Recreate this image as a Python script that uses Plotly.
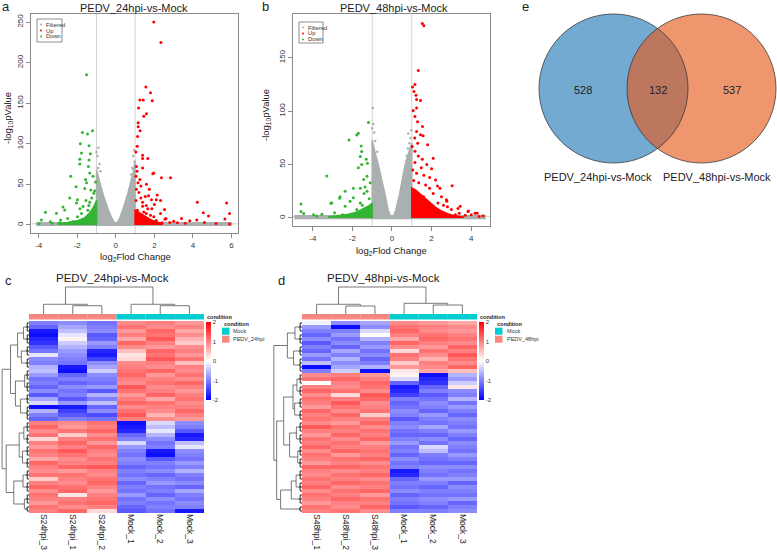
import plotly.graph_objects as go

W, H = 777, 553


def fx(p):
    # pixel column -> paper x
    return p / W


def fy(p):
    # pixel row -> paper y
    return 1 - p / H


# ---------------- volcano a : PEDV_24hpi-vs-Mock ----------------
a_up = [(1.97, 250), (2.34, 225), (1.56, 170), (1.80, 163), (1.25, 154), (1.42, 154), (1.89, 153),
        (1.18, 144), (1.59, 137), (1.45, 134), (1.16, 126), (1.16, 121), (1.26, 116), (1.13, 109),
        (1.11, 97), (1.04, 90), (1.39, 86), (1.66, 82), (1.39, 82), (1.07, 72), (1.39, 70), (1.10, 66),
        (1.97, 64), (1.92, 63), (2.37, 58), (2.84, 58), (1.25, 56), (1.59, 50), (1.30, 48), (1.07, 44),
        (1.74, 44), (2.15, 37), (1.53, 35), (1.85, 31), (2.32, 30), (4.23, 28), (5.75, 27), (2.00, 25),
        (1.39, 23), (1.66, 20), (4.54, 15), (5.90, 14), (4.81, 11), (5.66, 7.4), (5.90, 1.2), (3.41, 8),
        (3.84, 5), (4.20, 6), (2.55, 7), (3.00, 4.5), (1.97, 10), (2.32, 14), (1.87, 20), (1.58, 24),
        (1.39, 28), (1.70, 36), (2.10, 31), (2.60, 8), (2.10, 5.5), (1.58, 14), (2.53, 19), (1.20, 40),
        (1.05, 60), (1.15, 52), (1.30, 33), (1.05, 30), (1.12, 18), (1.45, 16), (2.80, 3), (3.20, 2.5),
        (3.60, 2), (4.60, 3), (5.20, 1.8), (2.40, 2.5), (1.80, 12), (1.25, 12), (1.50, 9)]
a_down = [(-1.52, 185), (-1.73, 114), (-1.47, 112), (-1.21, 116), (-1.84, 100), (-1.39, 97.5),
          (-1.78, 88.5), (-1.32, 87.6), (-1.87, 81), (-1.87, 75), (-1.39, 80), (-1.42, 72), (-1.35, 64),
          (-2.34, 60), (-1.57, 56), (-1.18, 60), (-1.52, 52), (-1.05, 53), (-2.06, 47), (-1.61, 45),
          (-1.30, 43), (-1.14, 39), (-2.39, 33), (-1.99, 31), (-2.74, 22), (-2.04, 27), (-3.65, 15.7),
          (-3.08, 14.4), (-1.70, 22.6), (-2.65, 18.5), (-3.86, 6), (-3.98, 1.5), (-3.40, 4), (-2.86, 6),
          (-2.50, 8), (-1.99, 10), (-1.78, 14), (-1.45, 18), (-1.13, 9), (-1.60, 6), (-2.20, 4.3),
          (-1.40, 24), (-1.10, 20), (-1.86, 20), (-1.25, 33), (-1.10, 42), (-1.55, 30), (-2.90, 2.5),
          (-3.30, 2), (-2.30, 2.2), (-1.20, 14), (-1.35, 28)]
a_filtered = [(-0.90, 95), (-0.95, 85), (-0.85, 75), (-1.00, 90), (-0.80, 66), (-0.92, 70), (0.95, 92),
              (0.90, 85), (0.97, 78), (0.85, 70), (0.80, 62), (0.92, 68), (0.98, 72), (3.2, 0.8),
              (4.6, 0.6), (5.5, 0.9), (-3.6, 0.7), (-4.0, 0.5), (2.6, 0.5)]
# outlines of the dense point clouds
a_cloud_left = [(-0.02, 0), (-0.2, 8), (-0.38, 18), (-0.52, 27), (-0.64, 36), (-0.76, 46), (-0.86, 55),
                (-0.94, 63), (-1.0, 68), (-1.0, 0)]
a_cloud_right = [(0.02, 0), (0.2, 8), (0.38, 20), (0.52, 30), (0.64, 40), (0.74, 50), (0.84, 58),
                 (0.92, 66), (0.97, 74), (1.0, 78), (1.0, 0)]
a_cloud_base = [(-4.1, -1.5), (-4.1, 2.5), (6.0, 2.5), (6.0, -1.5)]
a_cloud_up = [(1.0, 0), (1.0, 18), (1.15, 16), (1.35, 13), (1.6, 9), (1.85, 6), (2.1, 3.5), (2.4, 2),
              (2.4, 0)]
a_cloud_down = [(-1.0, 0), (-1.0, 30), (-1.15, 22), (-1.35, 15), (-1.6, 9), (-2.0, 5), (-2.5, 3),
                (-3.0, 1.8), (-3.0, 0)]

# ---------------- volcano b : PEDV_48hpi-vs-Mock ----------------
b_up = [(1.53, 182), (1.61, 180), (1.33, 138), (1.16, 125), (1.04, 122.6), (1.11, 118.5), (1.21, 115),
        (1.24, 111), (1.44, 110), (1.24, 103), (1.07, 100.6), (1.16, 95), (1.29, 90), (1.54, 85.6),
        (1.24, 81), (1.44, 78), (1.57, 77), (1.80, 68.5), (1.02, 67), (1.16, 62.6), (1.33, 58),
        (1.53, 55), (2.08, 56), (1.16, 52), (1.76, 50), (2.00, 46), (1.48, 47), (1.24, 42), (1.61, 40),
        (2.20, 35.6), (3.04, 30.3), (2.42, 27.8), (1.90, 27.8), (2.08, 23), (1.60, 20), (2.75, 17),
        (1.24, 17), (2.32, 14), (2.80, 10.6), (3.33, 9), (3.84, 6), (4.30, 4.5), (4.60, 2), (4.00, 3),
        (3.40, 4.5), (3.00, 8), (2.77, 15.6), (3.44, 10.9), (3.86, 6.5), (4.20, 4.4), (2.50, 20),
        (1.10, 35), (1.35, 33), (1.05, 45), (1.70, 31), (2.60, 12), (3.20, 3), (3.70, 2.5), (4.40, 1.5),
        (1.30, 70), (1.15, 75), (1.90, 38), (2.30, 30)]
b_down = [(-1.19, 89.4), (-1.70, 79.4), (-1.78, 77.6), (-2.17, 73), (-1.56, 67.5), (-1.53, 62.2),
          (-1.60, 57.6), (-1.30, 55), (-1.24, 51.3), (-1.53, 50), (-1.70, 47), (-3.29, 39.4), (-1.26, 39),
          (-1.43, 36), (-1.95, 27.8), (-1.60, 27.8), (-1.26, 25), (-2.37, 25), (-2.62, 20), (-3.04, 14),
          (-1.95, 19), (-4.60, 13), (-4.46, 4.3), (-3.96, 3), (-4.60, 6), (-3.09, 13.8), (-2.65, 18.5),
          (-2.37, 11), (-2.12, 15.6), (-1.78, 8), (-1.60, 14), (-1.41, 23), (-1.36, 29), (-1.26, 8),
          (-3.54, 3.4), (-3.80, 1.9), (-2.90, 5), (-1.10, 33), (-1.15, 18), (-1.50, 12), (-2.50, 3),
          (-1.90, 4)]
b_filtered = [(-0.97, 103), (-0.95, 88), (-0.90, 80), (-0.85, 72), (-1.00, 84), (0.82, 79), (0.88, 70),
              (0.93, 75), (0.80, 65), (0.97, 82), (-0.75, 62), (0.75, 58), (-4.5, 0.6), (-3.5, 0.8),
              (3.8, 0.7), (4.6, 0.5)]
b_cloud_left = [(-0.05, 0), (-0.2, 8), (-0.35, 22), (-0.48, 33), (-0.6, 42), (-0.72, 52), (-0.84, 60),
                (-0.93, 68), (-1.0, 73), (-1.0, 0)]
b_cloud_right = [(0.05, 0), (0.2, 8), (0.38, 22), (0.5, 35), (0.62, 46), (0.72, 54), (0.82, 60),
                 (0.92, 66), (1.0, 70), (1.0, 0)]
b_cloud_base = [(-4.9, -1.2), (-4.9, 2.2), (4.7, 2.2), (4.7, -1.2)]
b_cloud_up = [(1.0, 0), (1.0, 28), (1.2, 26), (1.45, 22), (1.7, 18), (1.95, 14), (2.2, 10), (2.5, 6.5),
              (2.8, 4), (3.2, 2), (3.6, 0.8), (3.6, 0)]
b_cloud_down = [(-1.0, 0), (-1.0, 14), (-1.2, 11), (-1.5, 8), (-1.8, 5.5), (-2.2, 3.5), (-2.7, 2),
                (-3.2, 1), (-3.2, 0)]

fc_cut = 1.0
p_cut = 1.3

# ---------------- heatmaps ----------------
c_samples = ["S24hpi_3", "S24hpi_1", "S24hpi_2", "Mock_1", "Mock_2", "Mock_3"]
c_condition = ["PEDV_24hpi", "PEDV_24hpi", "PEDV_24hpi", "Mock", "Mock", "Mock"]
c_z = [
    [-1.0, -0.9, -1.1, 0.9, 1.0, 0.8], [-1.2, -0.7, -1.0, 1.1, 0.9, 1.0], [-1.8, -0.5, -0.9, 0.8, 1.2, 0.7],
    [-1.9, -0.2, -1.3, 1.0, 1.1, 0.9], [-1.7, 0.1, -1.2, 0.7, 1.3, 0.6], [-1.6, -0.4, -0.8, 1.2, 1.0, 0.4],
    [-1.3, -0.6, -1.0, 0.9, 0.8, 0.9], [-1.1, -0.8, -1.7, 0.5, 1.2, 1.0], [-0.2, -0.9, -1.8, 0.2, 1.1, 0.8],
    [-0.9, -1.0, -1.5, 0.3, 1.3, 1.1], [-1.0, -1.1, -0.9, 0.9, 1.0, 0.5], [-0.6, -1.8, -0.7, 1.0, 0.9, 1.0],
    [-0.5, -1.9, -0.4, 1.1, 1.2, 0.9], [-0.8, -1.2, -0.9, 1.2, 0.8, 1.1], [-1.1, -1.0, -1.0, 1.0, 1.0, 0.9],
    [-1.0, -1.2, -1.1, 0.9, 1.1, 1.2], [-1.2, -0.9, -0.8, 1.3, 0.9, 1.0], [-0.9, -1.1, -1.3, 1.1, 1.0, 0.8],
    [-1.3, -1.0, -0.6, 0.8, 1.2, 1.0], [-0.7, -1.3, -1.0, 1.0, 0.7, 1.1], [-0.3, -0.8, -0.5, 1.2, 1.1, 0.9],
    [-1.9, -1.8, -1.2, 0.9, 1.0, 1.0], [-0.6, -1.5, -0.9, 1.1, 0.9, 1.2], [-1.0, -1.3, -1.4, 1.3, 0.6, 1.0],
    [-1.2, -1.0, -1.1, 1.0, 0.9, 0.8],
    [1.0, 0.9, 1.1, -1.9, -0.3, -0.9], [1.2, 0.8, 1.0, -1.8, -0.5, -1.0], [0.9, 1.1, 1.2, -1.7, -0.2, -1.3],
    [1.1, 0.4, 0.9, -1.2, -0.6, -1.8], [0.3, 1.0, 1.1, -1.0, -0.9, -1.7], [1.0, 1.2, 0.8, -0.3, -1.1, -0.5],
    [0.8, 1.0, 1.2, -0.8, -1.0, -0.2], [1.1, 1.3, 1.0, -1.0, -1.8, -0.9], [1.0, 1.1, 0.9, -1.1, -1.9, -1.0],
    [0.7, 0.9, 1.1, -0.9, -1.3, -1.1], [1.2, 1.0, 1.0, -1.0, -1.0, -0.8], [1.0, 1.2, 1.3, -1.2, -1.1, -1.0],
    [0.9, 0.8, 1.0, -1.0, -0.9, -0.6], [1.1, 1.1, 0.9, -1.1, -1.2, -1.0], [0.4, 1.0, 1.1, -0.9, -1.0, -1.1],
    [1.0, 0.9, 1.2, -1.2, -0.8, -0.9], [1.2, 1.1, 1.0, -1.0, -1.1, -1.2], [0.9, 1.2, 0.8, -1.1, -1.0, -0.7],
    [1.1, 0.2, 1.0, -0.8, -1.2, -1.0], [1.0, 1.0, 1.1, -1.1, -0.9, -1.1], [0.8, 1.1, 1.2, -1.0, -1.1, -0.9],
    [1.1, 0.9, 1.0, -1.2, -1.0, -1.0], [1.0, 1.2, 0.3, -1.3, -1.1, -1.8],
]
c_col_tree = [10.0, [3.6, 0, [3.07, 1, 2]], [3.6, 3, [3.07, 4, 5]]]
c_row_blocks = [3, 3, 3, 3, 3, 3, 3, 4, 3, 3, 3, 3, 3, 3, 3, 2]
c_row_tree = [9.9,
              [6.8, [4.2, [2.0, 0, 1], [2.8, 2, 3]], [5.0, [1.6, 4, 5], [3.1, 6, 7]]],
              [8.4, [3.6, [1.9, 8, 9], [2.4, 10, 11]], [5.6, [2.2, 12, 13], [1.7, 14, 15]]]]

d_samples = ["S48hpi_1", "S48hpi_2", "S48hpi_3", "Mock_1", "Mock_2", "Mock_3"]
d_condition = ["PEDV_48hpi", "PEDV_48hpi", "PEDV_48hpi", "Mock", "Mock", "Mock"]
d_z = [
    [-0.1, -0.9, -0.7, 0.9, 0.8, 0.7], [-0.8, -1.9, -0.9, 1.1, 1.0, 0.9], [-1.0, -1.0, -0.3, 1.2, 0.9, 0.8],
    [-1.2, -0.8, 0.0, 1.0, 1.1, 1.0], [-0.9, -1.1, -0.6, 0.7, 1.2, 1.1], [-1.3, -0.9, -1.0, 1.2, 1.0, 0.9],
    [-1.0, -1.2, -0.8, 0.9, 0.8, 1.2], [-1.2, -0.7, -1.1, 0.3, 1.1, 1.0], [-0.8, -1.0, -0.9, 1.1, 0.9, 1.3],
    [-1.1, -0.6, -1.2, 1.0, 0.6, 1.1], [-0.5, -0.9, -1.0, 0.4, 1.0, 0.9], [-1.9, -0.7, -0.6, 0.8, 0.9, 1.2],
    [-1.0, -0.4, -1.9, 0.2, 0.7, 0.5],
    [0.9, 1.0, 0.8, 0.1, -1.9, -0.6], [1.1, 1.2, 1.0, -0.3, -1.7, -0.8], [0.0, 1.0, 1.2, -1.2, -1.6, -0.4],
    [1.0, 0.9, 1.1, -1.8, -1.2, 0.2], [1.2, 1.1, 0.9, -1.7, -1.0, -0.9], [0.9, 0.3, 1.3, -1.5, -1.3, -1.0],
    [1.1, 1.0, 1.2, -1.0, -1.1, -0.6], [1.0, 1.3, 0.9, -1.2, -0.9, -1.1], [0.8, 1.1, 1.0, -1.1, -1.0, -0.8],
    [1.2, 0.9, 1.1, -0.9, -1.2, -1.0], [1.0, 1.2, 0.4, -1.0, -0.8, -1.2], [1.1, 1.0, 1.0, -1.3, -1.0, -0.9],
    [0.9, 0.8, 1.2, -1.0, -1.1, -1.0], [1.3, 1.1, 0.9, -0.9, -0.7, -1.1], [1.0, 1.0, 1.1, -1.1, -1.0, -0.8],
    [0.8, 1.2, 1.0, -1.2, -1.2, -1.0], [1.1, 0.9, 1.2, -1.0, -0.9, -1.2], [1.0, 1.1, 0.8, -0.8, -1.1, -0.9],
    [1.2, 1.0, 1.0, -1.1, -0.3, -1.0], [0.9, 1.2, 1.1, -1.0, -0.5, -1.1], [1.1, 0.8, 1.0, -1.2, -1.0, -0.8],
    [1.0, 1.1, 1.2, -0.9, -1.1, -1.0], [0.8, 1.0, 0.9, -1.1, -1.2, -1.2], [1.2, 1.2, 1.1, -1.0, -0.9, -0.9],
    [1.0, 0.9, 1.0, -1.8, -1.0, -1.1], [0.9, 1.1, 1.2, -1.7, -1.1, -1.0], [1.1, 1.0, 0.9, -1.2, -0.8, -0.8],
    [1.0, 1.2, 1.1, -1.0, -1.0, -1.2], [1.2, 0.9, 1.0, -1.1, -1.2, -0.9], [0.9, 1.1, 1.2, -0.9, -1.0, -1.0],
    [1.1, 1.0, 0.8, -1.2, -1.1, -1.1], [1.0, 1.2, 1.1, -1.0, -0.9, -0.8], [0.8, 1.0, 1.0, -1.1, -1.0, -1.2],
    [1.1, 0.9, 1.2, -1.3, -1.2, -1.0], [1.0, 1.1, 0.9, -1.0, -1.0, -0.9],
]
d_col_tree = [10.0, [3.6, 0, [2.96, 1, 2]], [3.96, 3, [3.33, 4, 5]]]
d_row_blocks = [3, 3, 3, 4, 3, 3, 3, 3, 3, 3, 3, 3, 3, 3, 3, 2]
d_row_tree = [10.0,
              [5.2, [2.5, 0, 1], [3.0, 2, 3]],
              [9.0, [6.5, [3.2, [1.8, 4, 5], [2.6, 6, 7]], [4.4, [2.0, 8, 9], [1.5, 10, 11]]],
               [7.6, [3.8, [2.1, 12, 13], 14], 15]]]

# ---------------- venn ----------------
venn_sets = ["PEDV_24hpi-vs-Mock", "PEDV_48hpi-vs-Mock"]
venn_counts = [528, 132, 537]   # only 24hpi, both, only 48hpi

FONT = "Liberation Sans, Arial, sans-serif"
GREY_PTS = "#aab0b0"
RED = "#ff0000"
GREEN = "#33b533"
cond_colors = {"Mock": "#00cdd0", "PEDV_24hpi": "#f8877f", "PEDV_48hpi": "#f8877f"}
heat_scale = [[0, "#0000ff"], [0.5, "#ffffff"], [1, "#ff0000"]]

fig = go.Figure()
shapes = []
notes = []


def split(pairs):
    return [p[0] for p in pairs], [p[1] for p in pairs]


def add_cloud(pairs, color, xa, ya):
    xs, ys = split(pairs)
    fig.add_trace(go.Scatter(x=xs, y=ys, fill="toself", fillcolor=color, mode="lines",
                             line=dict(color=color, width=1.5), xaxis=xa, yaxis=ya,
                             hoverinfo="skip", showlegend=False))


def add_points(pairs, color, size, xa, ya):
    xs, ys = split(pairs)
    fig.add_trace(go.Scatter(x=xs, y=ys, mode="markers", marker=dict(color=color, size=size),
                             xaxis=xa, yaxis=ya, hoverinfo="skip", showlegend=False))


def volcano(xa, ya, clouds, filtered, up, down):
    base, left, right, cup, cdown = clouds
    add_cloud(base, GREY_PTS, xa, ya)
    add_cloud(left, GREY_PTS, xa, ya)
    add_cloud(right, GREY_PTS, xa, ya)
    add_points(filtered, GREY_PTS, 2.5, xa, ya)
    add_cloud(cdown, GREEN, xa, ya)
    add_cloud(cup, RED, xa, ya)
    add_points(down, GREEN, 3, xa, ya)
    add_points(up, RED, 3, xa, ya)
    for xv in (-fc_cut, fc_cut):
        shapes.append(dict(type="line", xref=xa, yref=ya + " domain", x0=xv, x1=xv, y0=0, y1=1,
                           line=dict(color="#cfd3d3", width=1), layer="below"))
    shapes.append(dict(type="line", xref=xa + " domain", yref=ya, x0=0, x1=1, y0=p_cut, y1=p_cut,
                       line=dict(color="#cfd3d3", width=1), layer="below"))


volcano("x", "y", (a_cloud_base, a_cloud_left, a_cloud_right, a_cloud_up, a_cloud_down),
        a_filtered, a_up, a_down)
volcano("x2", "y2", (b_cloud_base, b_cloud_left, b_cloud_right, b_cloud_up, b_cloud_down),
        b_filtered, b_up, b_down)


# ---- dendrograms ----
def walk(node, leaf, pos, hgt):
    if not isinstance(node, list):
        return leaf(node, pos, hgt)
    h, left, right = node
    pa, ha = walk(left, leaf, pos, hgt)
    pb, hb = walk(right, leaf, pos, hgt)
    pos += [pa, pa, pb, pb, None]
    hgt += [ha, h, h, hb, None]
    return (pa + pb) / 2, h


def col_leaf(i, pos, hgt):
    return i, 0


def row_leaf(blocks, fringe, fh=1.2):
    # leaf blocks: the rows of a block are joined in a short comb next to the heatmap
    starts = [sum(blocks[:k]) for k in range(len(blocks))]
    fpos, fhgt = fringe

    def leaf(k, pos, hgt):
        rows = list(range(starts[k], starts[k] + blocks[k]))
        for r in rows:
            fpos.extend([r, r, None])
            fhgt.extend([0, fh * 0.55, None])
        fpos.extend([rows[0], rows[-1], None])
        fhgt.extend([fh * 0.55, fh * 0.55, None])
        mid = sum(rows) / len(rows)
        fpos.extend([mid, mid, None])
        fhgt.extend([fh * 0.55, fh, None])
        return mid, fh
    return leaf


def heat_panel(z, samples, cond, col_tree, row_tree, blocks, ax):
    hx, hy, cx, cy, rx, ry, cbx = ax
    fig.add_trace(go.Heatmap(z=z, x=list(range(len(samples))), y=list(range(len(z))),
                             colorscale=heat_scale, zmin=-2, zmax=2, xaxis=hx, yaxis=hy,
                             hoverinfo="skip",
                             colorbar=dict(x=fx(cbx), xanchor="left", y=fy(322), yanchor="top",
                                           len=78, lenmode="pixels", thickness=5,
                                           thicknessmode="pixels", outlinewidth=0, xpad=0, ypad=0,
                                           tickvals=[-2, -1, 0, 1, 2],
                                           ticktext=["-2", "-1", "0", "1", "2"],
                                           ticks="", tickfont=dict(size=6, color="#333"))))
    pos, hgt = [], []
    walk(col_tree, col_leaf, pos, hgt)
    fig.add_trace(go.Scatter(x=pos, y=hgt, mode="lines", line=dict(color="#6a6a6a", width=0.9),
                             xaxis=cx, yaxis=cy, hoverinfo="skip", showlegend=False))
    pos, hgt = [], []
    fpos, fhgt = [], []
    walk(row_tree, row_leaf(blocks, (fpos, fhgt)), pos, hgt)
    fig.add_trace(go.Scatter(x=hgt, y=pos, mode="lines", line=dict(color="#555", width=0.8),
                             xaxis=rx, yaxis=ry, hoverinfo="skip", showlegend=False))
    fig.add_trace(go.Scatter(x=fhgt, y=fpos, mode="lines", line=dict(color="#111", width=0.9),
                             xaxis=rx, yaxis=ry, hoverinfo="skip", showlegend=False))
    for i, c in enumerate(cond):
        shapes.append(dict(type="rect", xref=hx, yref="paper", x0=i - 0.5, x1=i + 0.5,
                           y0=fy(319.5), y1=fy(314), fillcolor=cond_colors[c], line=dict(width=0)))


heat_panel(c_z, c_samples, c_condition, c_col_tree, c_row_tree, c_row_blocks,
           ("x3", "y3", "x5", "y5", "x7", "y7", 206))
heat_panel(d_z, d_samples, d_condition, d_col_tree, d_row_tree, d_row_blocks,
           ("x4", "y4", "x6", "y6", "x8", "y8", 479))

# ---- axes ----
tick_font = dict(size=8, color="#333")
vol_common = dict(showgrid=False, zeroline=False, showline=True, mirror=True, linecolor="#8a8a8a",
                  linewidth=1, ticks="outside", ticklen=4, tickcolor="#8a8a8a", tickfont=tick_font)
layout_axes = dict(
    xaxis=dict(domain=[fx(31), fx(238)], range=[-4.4, 6.34], anchor="y",
               tickvals=[-4, -2, 0, 2, 4, 6], ticktext=["-4", "-2", "0", "2", "4", "6"], **vol_common),
    yaxis=dict(domain=[fy(233), fy(14)], range=[-10, 260], anchor="x", tickangle=-90,
               tickvals=[0, 50, 100, 150, 200, 250], **vol_common),
    xaxis2=dict(domain=[fx(293), fx(490)], range=[-5.0, 4.95], anchor="y2",
                tickvals=[-4, -2, 0, 2, 4], ticktext=["-4", "-2", "0", "2", "4"], **vol_common),
    yaxis2=dict(domain=[fy(226), fy(14)], range=[-7.5, 191], anchor="x2", tickangle=-90,
                tickvals=[0, 50, 100, 150], **vol_common),
)
n_rows = len(c_z)
for hx, hy, cx, cy, rx, ry, x0, x1, rx0, samples in (
        ("xaxis3", "yaxis3", "xaxis5", "yaxis5", "xaxis7", "yaxis7", 29, 204, 1, c_samples),
        ("xaxis4", "yaxis4", "xaxis6", "yaxis6", "xaxis8", "yaxis8", 302, 477, 273, d_samples)):
    layout_axes[hx] = dict(domain=[fx(x0), fx(x1)], range=[-0.5, 5.5], anchor=hy.replace("axis", ""),
                           tickvals=list(range(6)), ticktext=samples, tickangle=90, ticks="",
                           showgrid=False, zeroline=False, showline=False,
                           tickfont=dict(size=8.5, color="#222"))
    layout_axes[hy] = dict(domain=[fy(513), fy(321)], range=[n_rows - 0.5, -0.5], visible=False,
                           anchor=hx.replace("axis", ""))
    layout_axes[cx] = dict(domain=[fx(x0), fx(x1)], range=[-0.5, 5.5], visible=False,
                           anchor=cy.replace("axis", ""))
    layout_axes[cy] = dict(domain=[fy(314), fy(286)], range=[0, 10.37], visible=False,
                           anchor=cx.replace("axis", ""))
    layout_axes[rx] = dict(domain=[fx(rx0), fx(x0)], range=[10.3, 0], visible=False,
                           anchor=ry.replace("axis", ""))
    layout_axes[ry] = dict(domain=[fy(513), fy(321)], range=[n_rows - 0.5, -0.5], visible=False,
                           anchor=rx.replace("axis", ""))


def text(x, y, s, size, **kw):
    d = dict(x=fx(x), y=fy(y), xref="paper", yref="paper", text=s, showarrow=False,
             xanchor="center", yanchor="middle",
             font=dict(size=size, color=kw.pop("color", "#222"), family=FONT))
    d.update(kw)
    notes.append(d)


# panel letters and titles
for letter, x, y in (("a", 6, 7), ("b", 265, 7), ("e", 525, 7), ("c", 8, 280), ("d", 281, 280)):
    text(x, y, letter, 13)
text(134, 8, "PEDV_24hpi-vs-Mock", 11)
text(394, 8, "PEDV_48hpi-vs-Mock", 11)
text(112, 278, "PEDV_24hpi-vs-Mock", 11.5)
text(383, 278, "PEDV_48hpi-vs-Mock", 11.5)

# volcano axis titles
text(8, 118, "-log<sub>10</sub>pValue", 9.5, textangle=-90)
text(266, 115, "-log<sub>10</sub>pValue", 9.5, textangle=-90)
text(135, 257, "log<sub>2</sub>Flod Change", 9.5)
text(392, 251, "log<sub>2</sub>Flod Change", 9.5)

# volcano legends
for bx0, bx1, by0, by1 in ((37, 62, 19, 42), (299, 323, 22, 43)):
    shapes.append(dict(type="rect", xref="paper", yref="paper", x0=fx(bx0), x1=fx(bx1),
                       y0=fy(by1), y1=fy(by0), line=dict(color="#444", width=0.6),
                       fillcolor="white"))
    for k, (lab, col) in enumerate((("Filtered", GREY_PTS), ("Up", RED), ("Down", GREEN))):
        yy = by0 + 5.5 + k * 6
        shapes.append(dict(type="circle", xref="paper", yref="paper", x0=fx(bx0 + 3), x1=fx(bx0 + 5),
                           y0=fy(yy + 1), y1=fy(yy - 1), fillcolor=col, line=dict(width=0)))
        text(bx0 + 6.5, yy, lab, 5.8, xanchor="left", color="#333")

# heatmap condition labels / legends
for x_lab, x_leg, cond_name in ((205, 222, "PEDV_24hpi"), (478, 495, "PEDV_48hpi")):
    text(x_lab, 317, "<b>condition</b>", 5.5, xanchor="left")
    text(x_leg, 324, "<b>condition</b>", 5.5, xanchor="left")
    for k, name in enumerate(("Mock", cond_name)):
        y0 = 327.7 + k * 8
        shapes.append(dict(type="rect", xref="paper", yref="paper", x0=fx(x_leg), x1=fx(x_leg + 7.5),
                           y0=fy(y0 + 7), y1=fy(y0), fillcolor=cond_colors[name], line=dict(width=0)))
        text(x_leg + 9.5, y0 + 3.6, name, 5.5, xanchor="left", color="#333")

# venn
shapes.append(dict(type="circle", xref="paper", yref="paper", x0=fx(539), x1=fx(688),
                   y0=fy(163), y1=fy(14), fillcolor="#73aad2", line=dict(width=0)))
shapes.append(dict(type="circle", xref="paper", yref="paper", x0=fx(627), x1=fx(776),
                   y0=fy(163), y1=fy(14), fillcolor="#e85b1c", opacity=0.64, line=dict(width=0)))
for x0, x1 in ((539, 688), (627, 776)):
    shapes.append(dict(type="circle", xref="paper", yref="paper", x0=fx(x0), x1=fx(x1),
                       y0=fy(163), y1=fy(14), fillcolor="rgba(0,0,0,0)",
                       line=dict(color="#3a3a3a", width=0.8)))
for xc, n in zip((583, 658, 732), venn_counts):
    text(xc, 90, str(n), 11)
text(598, 177, venn_sets[0], 11)
text(717, 177, venn_sets[1], 11)

fig.update_layout(width=W, height=H, margin=dict(l=0, r=0, t=0, b=0), showlegend=False,
                  paper_bgcolor="white", plot_bgcolor="white",
                  font=dict(family=FONT, color="#222"),
                  shapes=shapes, annotations=notes, **layout_axes)

fig.write_html("out.html", config={"displayModeBar": False},
               post_script="document.body.style.margin='0';")
